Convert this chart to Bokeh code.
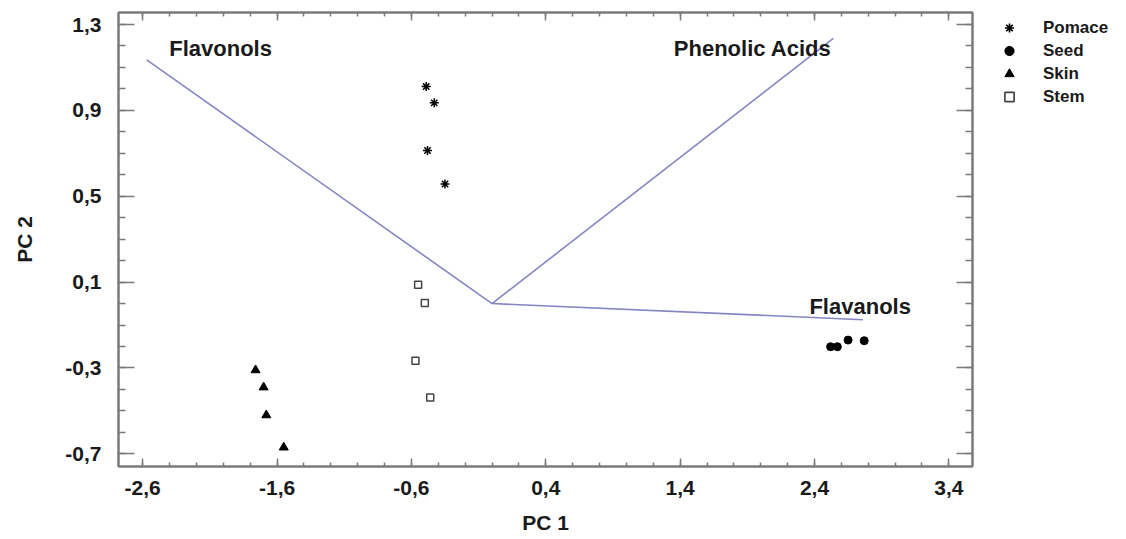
from bokeh.plotting import figure
from bokeh.layouts import row
from bokeh.models import (Range1d, FixedTicker, LinearAxis, CustomJSTickFormatter,
                          Legend, LegendItem, ColumnDataSource)
from bokeh.core.properties import value
from bokeh.embed import file_html
from bokeh.resources import INLINE

# ---- data ----
pomace_x = [-0.49, -0.43, -0.48, -0.35]
pomace_y = [1.011, 0.935, 0.713, 0.557]
seed_x = [2.52, 2.57, 2.65, 2.77]
seed_y = [-0.201, -0.201, -0.170, -0.173]
skin_x = [-1.76, -1.70, -1.68, -1.55]
skin_y = [-0.31, -0.39, -0.52, -0.67]
stem_x = [-0.55, -0.50, -0.57, -0.46]
stem_y = [0.088, 0.003, -0.266, -0.438]

groups = ["Pomace", "Seed", "Skin", "Stem"]

loading_names = ["Flavonols", "Phenolic Acids", "Flavanols"]
loading_x = [-2.57, 2.54, 2.76]
loading_y = [1.135, 1.235, -0.075]
label_x = [-2.02, 1.94, 2.74]
label_y = [1.188, 1.188, -0.015]

x_ticks = [-2.6, -1.6, -0.6, 0.4, 1.4, 2.4, 3.4]
y_ticks = [-0.7, -0.3, 0.1, 0.5, 0.9, 1.3]
x_minor = [round(-2.6 + 0.2 * i, 1) for i in range(31)]
y_minor = [round(-0.7 + 0.1 * i, 1) for i in range(21)]

FONT = "Liberation Sans"
GREY = "#7a7a7a"
LINE = "#8585c2"
TXT = "#1a1a1a"

p = figure(width=982, height=537, output_backend="svg", toolbar_location=None,
           x_range=Range1d(-2.78, 3.576), y_range=Range1d(-0.759, 1.356),
           min_border_left=118, min_border_right=10, min_border_top=12,
           min_border_bottom=71)
p.xaxis.visible = False
p.yaxis.visible = False
p.grid.visible = False
p.outline_line_color = GREY
p.outline_line_width = 2

fmt = CustomJSTickFormatter(code="return tick.toFixed(1).replace('.', ',');")
blank = CustomJSTickFormatter(code="return '';")

def style(ax, major_in, minor_in):
    ax.axis_line_color = GREY
    ax.axis_line_width = 2
    ax.major_tick_line_color = GREY
    ax.minor_tick_line_color = GREY
    ax.major_tick_line_width = 1.5
    ax.minor_tick_line_width = 1.5
    ax.major_tick_in = major_in
    ax.major_tick_out = 0
    ax.minor_tick_in = minor_in
    ax.minor_tick_out = 0
    ax.major_label_text_font = FONT
    ax.major_label_text_font_style = "bold"
    ax.major_label_text_color = TXT
    ax.major_label_text_font_size = "21px"
    ax.axis_label_text_font = FONT
    ax.axis_label_text_font_style = "bold"
    ax.axis_label_text_color = TXT
    ax.axis_label_text_font_size = "21px"

xt = FixedTicker(ticks=x_ticks, minor_ticks=x_minor)
yt = FixedTicker(ticks=y_ticks, minor_ticks=y_minor)

xb = LinearAxis(ticker=xt, formatter=fmt, axis_label="PC 1")
style(xb, 8, 4)
xb.major_label_standoff = 14
xb.axis_label_standoff = 13
p.add_layout(xb, "below")

yl = LinearAxis(ticker=yt, formatter=fmt, axis_label="PC 2")
style(yl, 16, 7)
yl.major_label_standoff = 17
yl.axis_label_standoff = 26
p.add_layout(yl, "left")

xa = LinearAxis(ticker=xt, formatter=blank)
style(xa, 8, 4)
xa.major_label_standoff = 0
p.add_layout(xa, "above")

yr = LinearAxis(ticker=yt, formatter=blank)
style(yr, 16, 7)
yr.major_label_standoff = 0
p.add_layout(yr, "right")

# loading vectors
vec = ColumnDataSource(dict(x0=[0.0] * 3, y0=[0.0] * 3, x1=loading_x, y1=loading_y))
p.segment("x0", "y0", "x1", "y1", source=vec, line_color=LINE, line_width=1.6)
lab = ColumnDataSource(dict(x=label_x, y=label_y, t=loading_names))
p.text("x", "y", text="t", source=lab, text_font=value(FONT), text_font_style="bold",
       text_font_size="22px", text_color=TXT, text_align="center",
       text_baseline="middle")

sty = [dict(marker="asterisk", size=9, line_color="black", line_width=1.5),
       dict(marker="circle", size=8, fill_color="black", line_color="black"),
       dict(marker="triangle", size=9, fill_color="black", line_color="black"),
       dict(marker="square", size=7, fill_color="white", line_color="#444444",
            line_width=1.5)]
series = [(pomace_x, pomace_y), (seed_x, seed_y), (skin_x, skin_y), (stem_x, stem_y)]
for (xs, ys), s in zip(series, sty):
    p.scatter(xs, ys, **s)

# ---- legend panel (separate figure to the right of the plot) ----
# same series drawn in a figure whose ranges exclude them, so only the legend shows
lf = figure(width=136, height=537, output_backend="svg", toolbar_location=None,
            x_range=Range1d(100, 101), y_range=Range1d(100, 101),
            min_border_left=0, min_border_right=0, min_border_top=12,
            min_border_bottom=71)
lf.xaxis.visible = False
lf.yaxis.visible = False
lf.grid.visible = False
lf.outline_line_color = None

leg_r = []
for (xs, ys), s in zip(series, sty):
    s2 = dict(s)
    if "line_width" in s2:
        s2["line_width"] = 1.7
    leg_r.append(lf.scatter(xs, ys, **s2))

legend = Legend(items=[LegendItem(label=g, renderers=[r]) for g, r in zip(groups, leg_r)],
                location=(12, 358), orientation="vertical")
legend.border_line_color = None
legend.background_fill_alpha = 0
legend.label_text_font = FONT
legend.label_text_font_style = "bold"
legend.label_text_font_size = "17px"
legend.label_text_color = TXT
legend.glyph_width = 30
legend.glyph_height = 23
legend.label_height = 23
legend.spacing = 0
legend.label_standoff = 19
legend.padding = 0
legend.margin = 0
lf.add_layout(legend)

layout = row(p, lf)
open("out.html", "w").write(file_html(layout, INLINE))
